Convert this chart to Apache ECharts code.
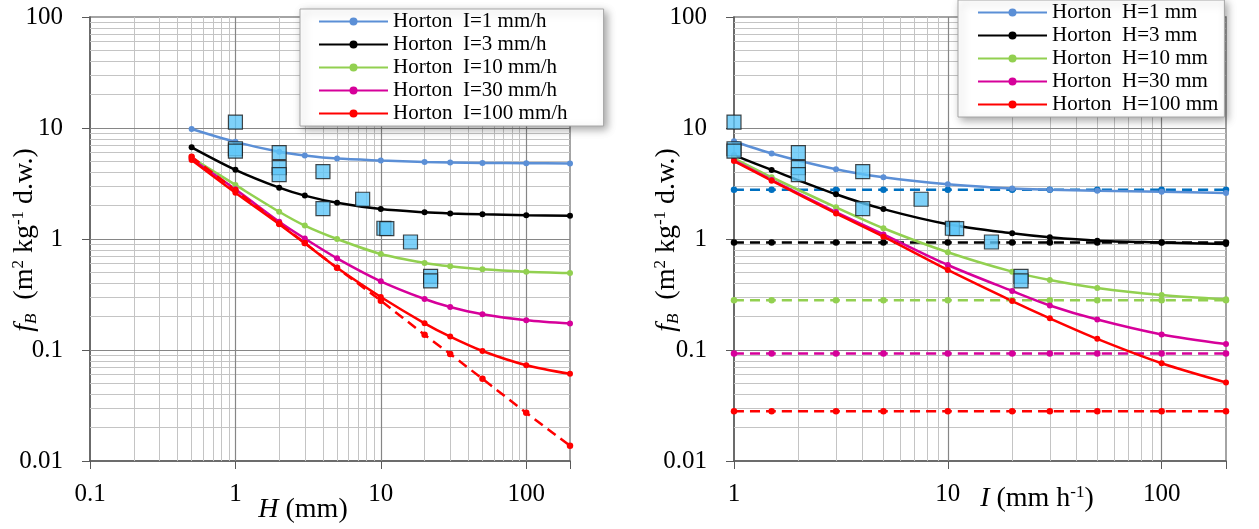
<!DOCTYPE html>
<html>
<head>
<meta charset="utf-8">
<script src="https://cdn.jsdelivr.net/npm/echarts@6/dist/echarts.min.js"></script>
<style>
  html, body { margin: 0; padding: 0; background: #ffffff; }
  #chart { width: 1259px; height: 529px; }
</style>
</head>
<body>
<div id="chart"></div>
<script>
// ---- tick labels ----
const yTickLabels = ['0.01', '0.1', '1', '10', '100'];        // exponents -2..2
const xTickLabelsH = ['0.1', '1', '10', '100'];                // exponents -1..2
const xTickLabelsI = ['1', '10', '100'];                       // exponents 0..2

// ---- left panel: f_B versus rain depth H ----
const depthH = [0.5, 1, 2, 3, 5, 10, 20, 30, 50, 100, 200];
const fbI1   = [9.8, 7.5, 6.1, 5.65, 5.3, 5.1, 4.95, 4.9, 4.85, 4.82, 4.8];
const fbI3   = [6.7, 4.2, 2.9, 2.46, 2.12, 1.86, 1.74, 1.70, 1.67, 1.64, 1.62];
const fbI10  = [5.4, 3.07, 1.76, 1.32, 1.0, 0.733, 0.608, 0.567, 0.533, 0.508, 0.494];
const fbI30  = [5.25, 2.8, 1.43, 1.01, 0.67, 0.416, 0.288, 0.244, 0.21, 0.185, 0.173];
const fbI100 = [5.15, 2.61, 1.36, 0.915, 0.55, 0.30, 0.174, 0.132, 0.098, 0.073, 0.061];
const fbLimitH = [5.5, 2.75, 1.38, 0.92, 0.55, 0.278, 0.137, 0.092, 0.055, 0.0272, 0.0137];

// ---- right panel: f_B versus rain intensity I ----
const intensityI = [1, 1.5, 3, 5, 10, 20, 30, 50, 100, 200];
const fbH1   = [7.6, 5.9, 4.25, 3.6, 3.11, 2.85, 2.78, 2.72, 2.66, 2.6];
const fbH3   = [5.7, 4.19, 2.53, 1.86, 1.36, 1.125, 1.035, 0.965, 0.93, 0.90];
const fbH10  = [5.33, 3.6, 1.93, 1.25, 0.76, 0.508, 0.427, 0.362, 0.313, 0.286];
const fbH30  = [5.1, 3.4, 1.75, 1.1, 0.583, 0.34, 0.252, 0.188, 0.138, 0.113];
const fbH100 = [5.04, 3.35, 1.70, 1.05, 0.526, 0.276, 0.193, 0.126, 0.076, 0.051];
const limH1   = [2.78, 2.78, 2.78, 2.78, 2.78, 2.78, 2.78, 2.78, 2.78, 2.78];
const limH3   = [0.93, 0.93, 0.93, 0.93, 0.93, 0.93, 0.93, 0.93, 0.93, 0.93];
const limH10  = [0.28, 0.28, 0.28, 0.28, 0.28, 0.28, 0.28, 0.28, 0.28, 0.28];
const limH30  = [0.093, 0.093, 0.093, 0.093, 0.093, 0.093, 0.093, 0.093, 0.093, 0.093];
const limH100 = [0.028, 0.028, 0.028, 0.028, 0.028, 0.028, 0.028, 0.028, 0.028, 0.028];

// ---- measured events (same events in both panels) ----
const obsX  = [1, 1, 1, 2, 2, 2, 4, 4, 7.5, 10.5, 11, 16, 22, 22];
const obsFb = [11.3, 6.5, 6.2, 6.0, 4.4, 3.8, 4.05, 1.88, 2.28, 1.25, 1.24, 0.94, 0.46, 0.42];

// ---- legend names ----
const namesI = ['Horton  I=1 mm/h', 'Horton  I=3 mm/h', 'Horton  I=10 mm/h', 'Horton  I=30 mm/h', 'Horton  I=100 mm/h'];
const namesH = ['Horton  H=1 mm', 'Horton  H=3 mm', 'Horton  H=10 mm', 'Horton  H=30 mm', 'Horton  H=100 mm'];

const FONT = 'Liberation Serif';
const C_BLUE = '#5B8FD6', C_BLUE_D = '#0070C0', C_BLACK = '#000000',
      C_GREEN = '#92D050', C_MAG = '#D6009A', C_RED = '#FF0000';
const lineColors = [C_BLUE, C_BLACK, C_GREEN, C_MAG, C_RED];
const dashColors = [C_BLUE_D, C_BLACK, C_GREEN, C_MAG, C_RED];

const zip = (xs, ys) => xs.map((x, i) => [x, ys[i]]);

function decadeLabel(labels, minExp) {
  return function (v) {
    const e = Math.log10(v);
    const r = Math.round(e);
    if (Math.abs(e - r) > 1e-6) return '';
    return labels[r - minExp] || '';
  };
}

// light grid lines at 2..9 of each decade, dark ones at the decades
function gridLines(axisKey, decades, maxVal, majors) {
  const out = [];
  decades.forEach(d => {
    for (let k = 2; k <= 9; k++) {
      const v = +(k * d).toPrecision(6);
      if (v < maxVal) out.push({ [axisKey]: v, lineStyle: { color: '#c4c4c4', width: 1, type: 'solid' } });
    }
  });
  majors.forEach(v => out.push({ [axisKey]: v, lineStyle: { color: '#868686', width: 1.2, type: 'solid' } }));
  return out;
}

function helperSeries(idx, xDecades, xMax, xMajors) {
  return {
    type: 'line', name: 'grid' + idx, data: [], xAxisIndex: idx, yAxisIndex: idx,
    silent: true, z: 1,
    markLine: {
      silent: true, z: 1, animation: false, symbol: ['none', 'none'],
      label: { show: false }, emphasis: { disabled: true },
      data: [].concat(
        gridLines('yAxis', [0.01, 0.1, 1, 10], 100, []),
        gridLines('xAxis', xDecades, xMax, []),
        gridLines('yAxis', [], 100, [0.1, 1, 10]),
        gridLines('xAxis', [], xMax, xMajors)
      )
    }
  };
}

function curve(name, idx, xs, ys, color, dashed) {
  return {
    type: 'line', name: name, xAxisIndex: idx, yAxisIndex: idx,
    data: zip(xs, ys), smooth: 0.3, z: 3,
    symbol: 'circle', symbolSize: dashed ? 6.5 : 6, showSymbol: true,
    lineStyle: { color: color, width: 2.5, type: dashed ? [10, 6] : 'solid' },
    itemStyle: { color: color },
    emphasis: { disabled: true }
  };
}

function observed(idx) {
  return {
    type: 'scatter', name: 'Measured', xAxisIndex: idx, yAxisIndex: idx,
    data: zip(obsX, obsFb), symbol: 'rect', symbolSize: 14, z: 5,
    itemStyle: { color: '#5EC5F8', borderColor: '#1a1a1a', borderWidth: 1.2 },
    emphasis: { disabled: true }
  };
}

function logAxis(idx, min, max, formatter, isY) {
  return {
    type: 'log', logBase: 10, gridIndex: idx, min: min, max: max,
    axisLine: { show: true, onZero: false, lineStyle: { color: '#595959', width: 1.5 } },
    axisTick: { show: true, inside: false, length: 8, lineStyle: { color: '#595959', width: 1 } },
    minorTick: { show: false },
    splitLine: { show: false },
    axisLabel: {
      fontFamily: FONT, fontSize: 25, color: '#000', margin: isY ? 27 : 21,
      formatter: formatter, showMinLabel: true, showMaxLabel: true
    }
  };
}

const legendBase = {
  orient: 'vertical', itemWidth: 69, itemHeight: 10, itemGap: 2,
  backgroundColor: '#ffffff', borderColor: '#a6a6a6', borderWidth: 1,
  shadowBlur: 8, shadowColor: 'rgba(0,0,0,0.35)', shadowOffsetX: 3, shadowOffsetY: 3,
  selectedMode: false,
  textStyle: { fontFamily: FONT, fontSize: 21, color: '#000' }
};

const series = [
  helperSeries(0, [0.1, 1, 10, 100], 200, [1, 10, 100]),
  helperSeries(1, [1, 10, 100], 200, [10, 100])
];
[fbI1, fbI3, fbI10, fbI30, fbI100].forEach((ys, i) => series.push(curve(namesI[i], 0, depthH, ys, lineColors[i], false)));
series.push(curve('Limit I', 0, depthH, fbLimitH, C_RED, true));
[limH1, limH3, limH10, limH30, limH100].forEach((ys, i) => series.push(curve('Limit ' + namesH[i], 1, intensityI, ys, dashColors[i], true)));
[fbH1, fbH3, fbH10, fbH30, fbH100].forEach((ys, i) => series.push(curve(namesH[i], 1, intensityI, ys, lineColors[i], false)));
series.push(observed(0));
series.push(observed(1));

const serif = (size, extra) => Object.assign({ fontFamily: FONT, fontSize: size, fill: '#000', fontStyle: 'normal' }, extra || {});
const titleRich = {
  n:   serif(28, { lineHeight: 30 }),
  i:   serif(28, { fontStyle: 'italic', lineHeight: 30 }),
  sub: serif(17, { fontStyle: 'italic', lineHeight: 18, verticalAlign: 'bottom' }),
  sup: serif(17, { lineHeight: 18, verticalAlign: 'top' })
};
const yTitle = '{i|f}{sub|B}{n|  (m}{sup|2}{n| kg}{sup|-1}{n| d.w.)}';

function textEl(x, y, text, rotate) {
  return {
    type: 'text', x: x, y: y, rotation: rotate ? Math.PI / 2 : 0, z: 10, silent: true,
    style: Object.assign(serif(28), { text: text, rich: titleRich, align: 'center', verticalAlign: 'middle' })
  };
}

const option = {
  animation: false,
  backgroundColor: '#ffffff',
  grid: [
    { left: 90, right: 689, top: 17, bottom: 68, show: true, borderColor: '#868686', borderWidth: 1.5, backgroundColor: '#fff' },
    { left: 734, right: 33, top: 17, bottom: 68, show: true, borderColor: '#868686', borderWidth: 1.5, backgroundColor: '#fff' }
  ],
  xAxis: [
    logAxis(0, 0.1, 200, decadeLabel(xTickLabelsH, -1), false),
    logAxis(1, 1, 200, decadeLabel(xTickLabelsI, 0), false)
  ],
  yAxis: [
    logAxis(0, 0.01, 100, decadeLabel(yTickLabels, -2), true),
    logAxis(1, 0.01, 100, decadeLabel(yTickLabels, -2), true)
  ],
  legend: [
    Object.assign({}, legendBase, { data: namesI, left: 300, top: 9, padding: [2, 36, 2, 18] }),
    Object.assign({}, legendBase, { data: namesH, left: 958, top: 0, padding: [2, 6, 2, 19] })
  ],
  graphic: [
    textEl(303, 510, '{i|H}{n| (mm)}', false),
    textEl(1037, 499, '{i|I}{n| (mm h}{sup|-1}{n|)}', false),
    textEl(25, 240, yTitle, true),
    textEl(667, 240, yTitle, true)
  ],
  series: series
};

const chart = echarts.init(document.getElementById('chart'), null, { renderer: 'canvas' });
chart.setOption(option);
</script>
</body>
</html>
